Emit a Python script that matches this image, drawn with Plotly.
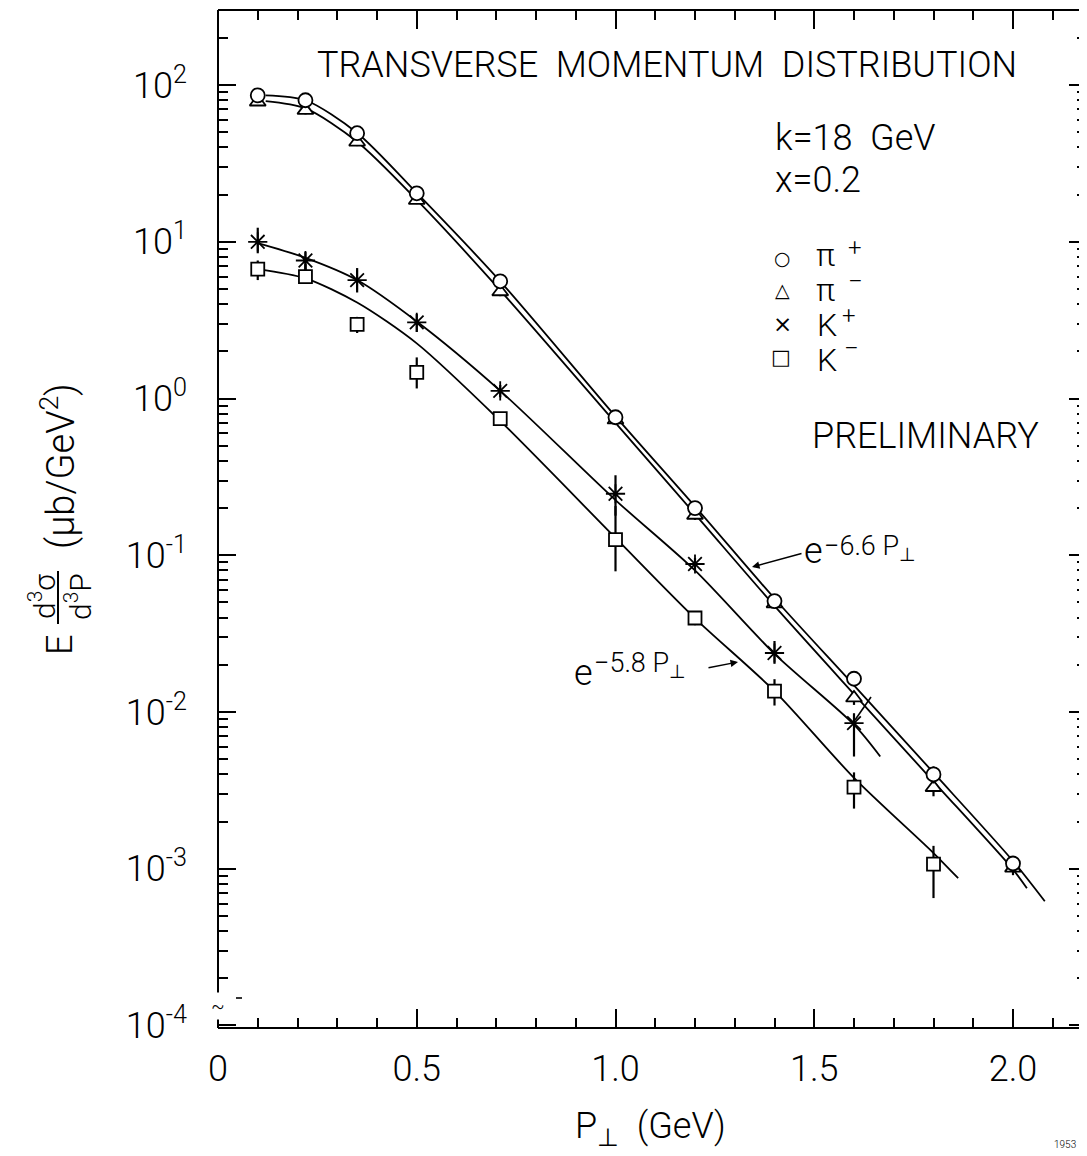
import plotly.graph_objects as go

# ---------------- data ----------------
p_pi = [0.1, 0.22, 0.35, 0.5, 0.71, 1.0, 1.2, 1.4, 1.6, 1.8, 2.0]
pi_plus = [86, 80, 49.3, 20.4, 5.6, 0.76, 0.20, 0.051, 0.0163, 0.0040, 0.00108]
pi_plus_err = [4, 4, 2.5, 1.0, 0.3, 0.04, 0.012, 0.003, 0.0012, 0.0005, 0.00008]
pi_minus = [78, 69, 43.3, 18.4, 4.8, 0.73, 0.18, 0.049, 0.0123, 0.0033, 0.00101]
pi_minus_err = [4, 4, 2.5, 1.0, 0.3, 0.04, 0.012, 0.003, 0.0012, 0.0004, 0.0001]

p_kp = [0.1, 0.22, 0.35, 0.5, 0.71, 1.0, 1.2, 1.4, 1.6]
k_plus = [10.0, 7.6, 5.7, 3.06, 1.12, 0.247, 0.088, 0.0238, 0.0085]
k_plus_hi = [2.3, 1.0, 1.1, 0.4, 0.1, 0.077, 0.008, 0.0046, 0.0013]
k_plus_lo = [1.55, 1.0, 0.95, 0.4, 0.1, 0.068, 0.008, 0.0035, 0.0033]

p_km = [0.1, 0.22, 0.35, 0.5, 0.71, 1.0, 1.2, 1.4, 1.6, 1.8]
k_minus = [6.7, 6.0, 2.97, 1.47, 0.745, 0.126, 0.0398, 0.0136, 0.00332, 0.00107]
k_minus_hi = [0.9, 1.2, 0.35, 0.36, 0.06, 0.08, 0.004, 0.0026, 0.0008, 0.00033]
k_minus_lo = [1.0, 0.5, 0.35, 0.31, 0.06, 0.047, 0.004, 0.0026, 0.0009, 0.00042]

# hand-drawn fit curves
pip_curve_x = [0.12, 0.22, 0.35, 0.5, 0.71, 1.0, 1.2, 1.4, 1.6, 1.8, 2.0, 2.08]
pip_curve_y = [86, 80, 49.5, 20.5, 5.6, 0.77, 0.205, 0.053, 0.0148, 0.0041, 0.00112, 0.00062]
pim_curve_x = [0.12, 0.22, 0.35, 0.5, 0.71, 1.0, 1.2, 1.4, 1.6, 1.8, 2.0, 2.035]
pim_curve_y = [79, 71, 43.5, 18.5, 4.9, 0.70, 0.183, 0.0475, 0.0130, 0.0036, 0.00099, 0.00075]
kp_curve_x = [0.1, 0.22, 0.35, 0.5, 0.71, 1.0, 1.2, 1.4, 1.6, 1.666]
kp_curve_y = [9.8, 7.9, 5.7, 3.1, 1.12, 0.225, 0.08, 0.0235, 0.0083, 0.0052]
km_curve_x = [0.1, 0.22, 0.35, 0.5, 0.71, 1.0, 1.2, 1.4, 1.6, 1.8, 1.862]
km_curve_y = [6.7, 5.85, 4.1, 2.25, 0.72, 0.129, 0.0396, 0.0136, 0.0038, 0.00126, 0.00087]

x_major = [0, 0.5, 1.0, 1.5, 2.0]
x_major_text = ["0", "0.5", "1.0", "1.5", "2.0"]
x_minor = [0.1, 0.2, 0.3, 0.4, 0.6, 0.7, 0.8, 0.9, 1.1, 1.2, 1.3, 1.4,
           1.6, 1.7, 1.8, 1.9, 2.1]
y_major = [1e-4, 1e-3, 1e-2, 1e-1, 1e0, 1e1, 1e2]
y_major_text = ["10<sup>-4</sup>", "10<sup>-3</sup>", "10<sup>-2</sup>",
                "10<sup>-1</sup>", "10<sup>0</sup>", "10<sup>1</sup>", "10<sup>2</sup>"]
y_minor = [k * 10 ** d for d in range(-4, 3) for k in range(2, 10)]

legend_symbols = ["○", "△", "×", "□"]
legend_letters = ["π", "π", "K", "K"]
legend_charges = ["+", "−", "+", "−"]

# ---------------- layout geometry (page pixels) ----------------
PAGE_W, PAGE_H = 1087, 1156
OFF = 8                      # default body margin of the html page
L, R, T, B = 218, 1087, 10, 1028
FONT = "Roboto, 'DejaVu Sans', sans-serif"


def fx(xp):
    return (xp - L) / (R - L)


def fy(yp):
    return (B - yp) / (B - T)


fig = go.Figure()

line_style = dict(color="black", width=1.8, shape="spline", smoothing=0.8)
for cx, cy in [(pip_curve_x, pip_curve_y), (pim_curve_x, pim_curve_y),
               (kp_curve_x, kp_curve_y), (km_curve_x, km_curve_y)]:
    fig.add_trace(go.Scatter(x=cx, y=cy, mode="lines", line=line_style,
                             showlegend=False, hoverinfo="skip"))


def err(hi, lo=None):
    d = dict(type="data", array=hi, width=0, thickness=2.2, color="black")
    if lo is not None:
        d["symmetric"] = False
        d["arrayminus"] = lo
    return d


mk_line = dict(color="black", width=1.8)
fig.add_trace(go.Scatter(x=p_km, y=k_minus, mode="markers", name="K-",
                         marker=dict(symbol="square", size=13, color="white", line=mk_line),
                         error_y=err(k_minus_hi, k_minus_lo), showlegend=False))
fig.add_trace(go.Scatter(x=p_kp, y=k_plus, mode="markers", name="K+",
                         marker=dict(symbol="asterisk-open", size=16, color="black", line=mk_line),
                         error_y=err(k_plus_hi, k_plus_lo), showlegend=False))
fig.add_trace(go.Scatter(x=p_pi, y=pi_minus, mode="markers", name="pi-",
                         marker=dict(symbol="triangle-up", size=14, color="white", line=mk_line),
                         error_y=err(pi_minus_err), showlegend=False))
fig.add_trace(go.Scatter(x=p_pi, y=pi_plus, mode="markers", name="pi+",
                         marker=dict(symbol="circle", size=14, color="white", line=mk_line),
                         error_y=err(pi_plus_err), showlegend=False))

axis_common = dict(showline=False, showgrid=False, zeroline=False, mirror="ticks",
                   ticks="inside", tickcolor="black", tickwidth=2,
                   tickfont=dict(family=FONT, size=36, color="black", weight=300))

fig.update_xaxes(range=[0, (R - L) / 397.5], tickmode="array", tickvals=x_major,
                 ticktext=x_major_text, ticklen=19, ticklabelstandoff=16,
                 minor=dict(ticks="inside", ticklen=10, tickwidth=1.6, tickcolor="black",
                            tickmode="array", tickvals=x_minor, showgrid=False),
                 **axis_common)
fig.update_yaxes(type="log", range=[-4.016, 2.479], tickmode="array", tickvals=y_major,
                 ticktext=y_major_text, ticklen=18, ticklabelstandoff=30,
                 minor=dict(ticks="inside", ticklen=10, tickwidth=1.6, tickcolor="black",
                            tickmode="array", tickvals=y_minor, showgrid=False),
                 **axis_common)

shapes = [
    dict(type="line", xref="paper", yref="paper", x0=0, x1=0, y0=0, y1=1,
         line=dict(color="black", width=2)),
    dict(type="line", xref="paper", yref="paper", x0=0, x1=1, y0=0, y1=0,
         line=dict(color="black", width=2)),
    dict(type="line", xref="paper", yref="paper", x0=0, x1=1, y0=1, y1=1,
         line=dict(color="black", width=2)),
    # fraction bar of the y-axis title
    dict(type="line", xref="paper", yref="paper", x0=fx(58), x1=fx(58),
         y0=fy(571), y1=fy(624), line=dict(color="black", width=2)),
    # small pointer stroke near K+ at 1.6
    dict(type="line", xref="paper", yref="paper", x0=fx(855), x1=fx(871),
         y0=fy(720), y1=fy(697), line=dict(color="black", width=1.6)),
    # small dash near the axis break
    dict(type="line", xref="paper", yref="paper", x0=fx(236), x1=fx(242),
         y0=fy(998), y1=fy(998), line=dict(color="black", width=1.6)),
]


def txt(text, xp, yp, size=36, xanchor="center", yanchor="middle", angle=0,
        family=FONT, weight=300, **kw):
    return dict(text=text, x=fx(xp), y=fy(yp), xref="paper", yref="paper",
                xanchor=xanchor, yanchor=yanchor, showarrow=False, textangle=angle,
                font=dict(family=family, size=size, color="black", weight=weight), **kw)


def arrow(tip_x, tip_y, tail_x, tail_y):
    return dict(text="", x=fx(tip_x), y=fy(tip_y), xref="paper", yref="paper",
                ax=tail_x - tip_x, ay=tail_y - tip_y, axref="pixel", ayref="pixel",
                showarrow=True, arrowhead=2, arrowsize=1, arrowwidth=1.5,
                arrowcolor="black", standoff=0, startstandoff=0)


nb = "\u00a0"
SYM = "'DejaVu Sans', sans-serif"

annotations = [
    txt("TRANSVERSE" + nb * 2 + "MOMENTUM" + nb * 2 + "DISTRIBUTION", 667, 65, size=36),
    txt("k=18" + nb * 2 + "GeV", 773, 138, xanchor="left"),
    txt("x=0.2", 773, 180, xanchor="left"),
    txt("PRELIMINARY", 925, 436, size=36),
    txt("P<sub>⊥</sub>" + nb * 2 + "(GeV)", 650, 1128),
    txt("1953", 1065, 1144, size=10),
    txt("~", 218, 1006, size=20, bgcolor="white"),
    # y-axis title: E d3σ/d3P (μb/GeV2)
    txt("E", 60, 645, size=36, angle=-90),
    txt("d<sup>3</sup>σ", 42, 597, size=30, angle=-90),
    txt("d<sup>3</sup>P", 78, 597, size=30, angle=-90),
    txt("(μb/GeV<sup>2</sup>)", 58, 466, size=38, angle=-90),
    # fit labels
    txt("e", 813, 551, size=36),
    txt("−6.6" + nb + "P<sub>⊥</sub>", 822, 548, size=27, xanchor="left"),
    txt("e", 583, 673, size=36),
    txt("−5.8" + nb + "P<sub>⊥</sub>", 592, 665, size=27, xanchor="left"),
    arrow(752, 567, 803, 553),
    arrow(738, 662, 707, 668),
]

# hand-made legend: symbol, letter and charge placed in columns
sym_pos = [(782, 258, 19), (782, 290, 19), (782, 324, 23), (781, 357, 21)]
letter_pos = [(825, 255), (825, 290), (827, 325), (827, 360)]
charge_pos = [(855, 248, 24), (855, 281, 26), (849, 316, 24), (851, 348, 26)]
for g, (sx, sy, ss) in zip(legend_symbols, sym_pos):
    annotations.append(txt(g, sx, sy, size=ss, family=SYM, weight=400))
for g, (lx, ly) in zip(legend_letters, letter_pos):
    annotations.append(txt(g, lx, ly, size=32))
for g, (cx, cy, cs) in zip(legend_charges, charge_pos):
    annotations.append(txt(g, cx, cy, size=cs))

fig.update_layout(width=PAGE_W - OFF, height=PAGE_H - OFF,
                  margin=dict(l=L - OFF, r=PAGE_W - R, t=T - OFF, b=PAGE_H - B, pad=0),
                  paper_bgcolor="white", plot_bgcolor="white", showlegend=False,
                  shapes=shapes, annotations=annotations)

fig.write_html("out.html")
